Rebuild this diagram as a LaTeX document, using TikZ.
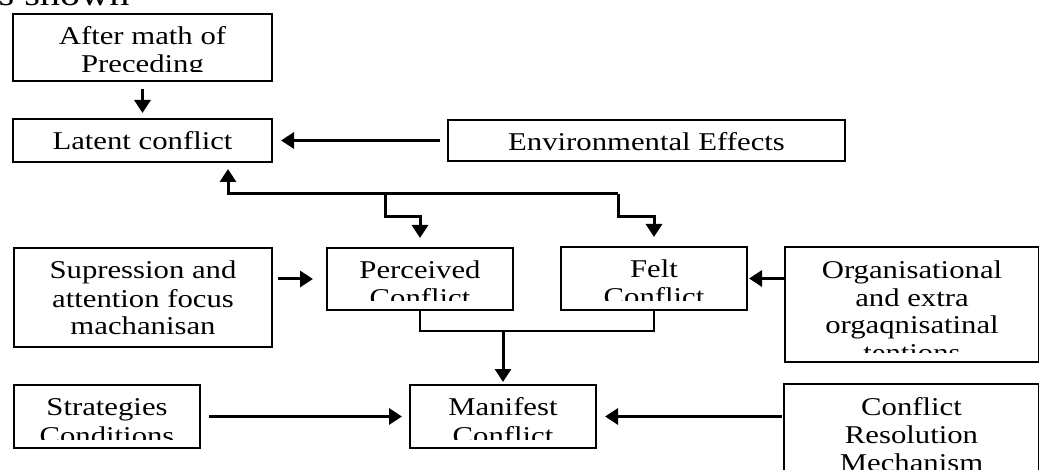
\documentclass[tikz,border=0pt]{standalone}
\usepackage{fontspec}
\setmainfont{Liberation Serif}[FakeStretch=1.2]
\usetikzlibrary{arrows.meta}

\tikzset{
  box/.style={draw, line width=1pt, anchor=north west, inner sep=0pt},
  boxtext/.style={path picture={
      \clip ([yshift=4.5pt]path picture bounding box.south west) rectangle (path picture bounding box.north east);
      \node[anchor=north, draw=none, inner sep=0pt, minimum width=0pt, minimum height=0pt, align=center]
        at ([yshift=-5.2pt]path picture bounding box.north) {\strut #1};}},
  arrow/.style={line width=1.5pt, -{Triangle[width=8pt,length=6.5pt]}},
  link/.style={line width=1pt}
}

\begin{document}
\begin{tikzpicture}[x=0.5pt, y=-0.5pt, font=\fontsize{12.8}{14}\selectfont]
  \useasboundingbox (0,0) rectangle (1039,470);
  \node[anchor=base east, inner sep=0pt, font=\fontsize{16.8}{18}\selectfont] (caption) at (130,6) {is shown};

  % boxes
  \node[box, minimum width=129.5pt, minimum height=33.5pt, boxtext={After math of\\Preceding}] (aftermath) at (12,13) {};
  \node[box, minimum width=129.5pt, minimum height=21.5pt, boxtext={Latent conflict}] (latent) at (12,118) {};
  \node[box, minimum width=198.5pt, minimum height=20.5pt, boxtext={Environmental Effects}] (envir) at (447,119) {};
  \node[box, minimum width=129pt, minimum height=49.5pt, boxtext={Supression and\\attention focus\\machanisan}] (supress) at (13,247) {};
  \node[box, minimum width=93pt, minimum height=31pt, boxtext={Perceived\\Conflict}] (perceived) at (326,247) {};
  \node[box, minimum width=93pt, minimum height=31.5pt, boxtext={Felt\\Conflict}] (felt) at (560,246) {};
  \node[box, minimum width=127pt, minimum height=57.5pt, boxtext={Organisational\\and extra\\orgaqnisatinal\\tentions}] (organ) at (784,246) {};
  \node[box, minimum width=93pt, minimum height=31.5pt, boxtext={Strategies\\Conditions}] (strategy) at (13,384) {};
  \node[box, minimum width=93pt, minimum height=31.5pt, boxtext={Manifest\\Conflict}] (manifest) at (409,384) {};
  \node[box, minimum width=127.5pt, minimum height=60pt, boxtext={Conflict\\Resolution\\Mechanism}] (resolution) at (783,383) {};

  % connectors
  \draw[arrow, shorten <=3.5pt, shorten >=2.5pt] (aftermath.south) -- (latent.north);
  \draw[arrow, shorten <=3.5pt, shorten >=4pt] (envir.west) -- (latent.east);

  \coordinate (lfork) at (228,194);
  \coordinate (pfork) at (385,194);
  \coordinate (ffork) at (618,194);
  \draw[arrow, shorten >=3pt] (ffork) -- (lfork) -- (lfork |- latent.south);
  \draw[arrow, shorten >=4.5pt] (pfork) -- ++(0,23) -| (perceived.north);
  \draw[arrow, shorten >=4.5pt] (ffork) -- ++(0,23) -| (felt.north);

  \draw[arrow, shorten <=2.5pt, shorten >=6.5pt] (supress.east |- perceived.west) -- (perceived.west);
  \draw[arrow, shorten >=0.5pt] (organ.west |- felt.east) -- (felt.east);

  \draw[link] (perceived.south) -- ++(0,20) coordinate (merge) -| (felt.south);
  \draw[arrow, shorten >=1pt] (manifest.north |- merge) -- (manifest.north);

  \draw[arrow, shorten <=4pt, shorten >=3.5pt] (strategy.east) -- (manifest.west);
  \draw[arrow, shorten <=0.5pt, shorten >=4pt] (resolution.west |- manifest.east) -- (manifest.east);
\end{tikzpicture}
\end{document}
